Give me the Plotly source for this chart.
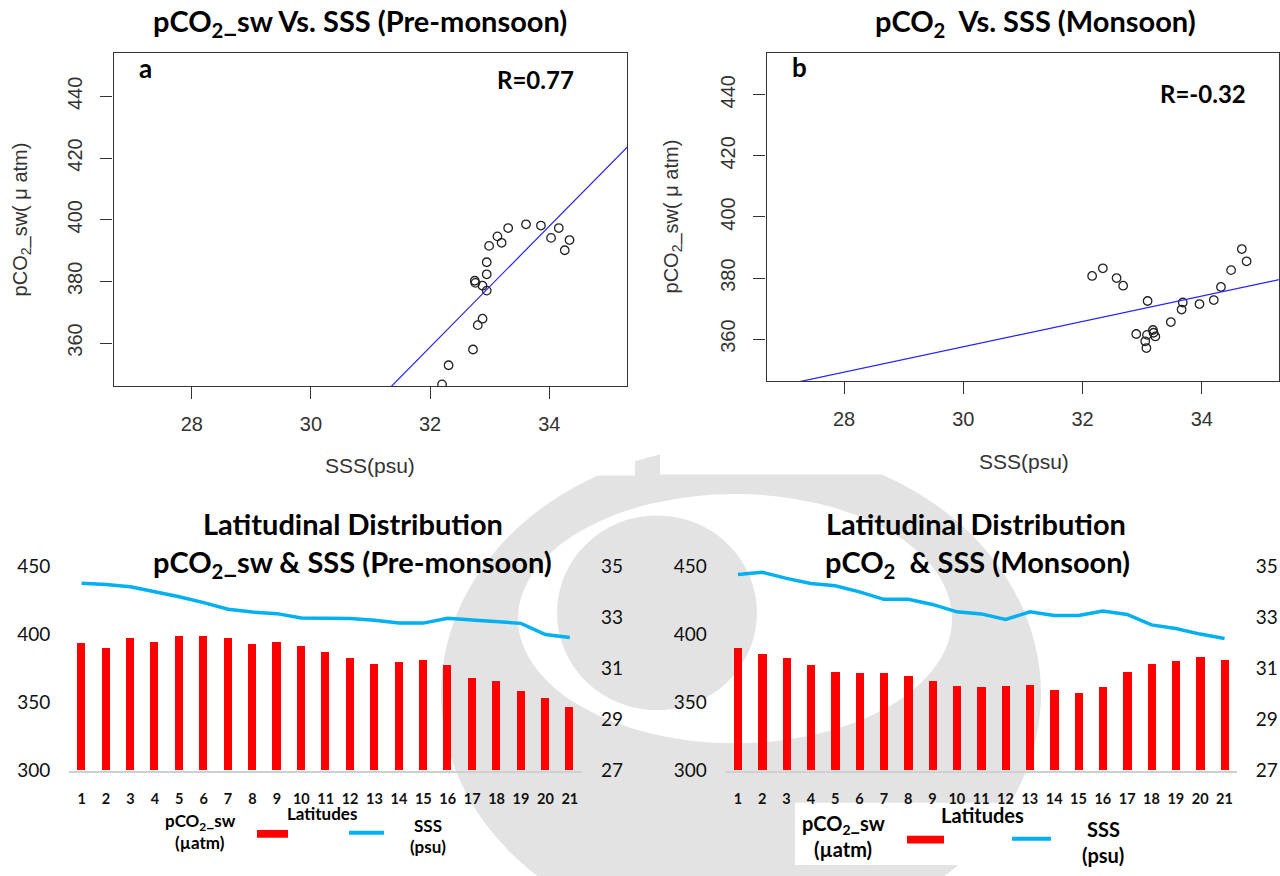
import plotly.graph_objects as go

W, H = 1280, 876

# ---- scatter data: SSS (psu) vs pCO2_sw (uatm) ----
sss_pre = [32.20, 32.31, 32.72, 32.80, 32.88, 32.75, 32.76, 32.88, 32.95, 32.95, 32.95,
           32.99, 33.13, 33.20, 33.31, 33.61, 33.86, 34.16, 34.03, 34.34, 34.26]
pco2_pre = [346.6, 352.8, 357.9, 365.8, 367.9, 380.2, 379.5, 378.6, 377.0, 382.3, 386.2,
            391.5, 394.6, 392.5, 397.3, 398.5, 398.1, 397.3, 394.1, 393.4, 390.1]

sss_mon = [32.16, 32.34, 32.57, 32.68, 33.09, 32.90, 33.08, 33.05, 33.07, 33.18, 33.19,
           33.22, 33.48, 33.66, 33.68, 33.96, 34.20, 34.32, 34.49, 34.67, 34.75]
pco2_mon = [380.7, 383.2, 380.0, 377.5, 372.5, 361.7, 361.4, 359.3, 357.1, 363.0, 362.1,
            360.9, 365.6, 369.7, 372.0, 371.5, 372.8, 377.1, 382.6, 389.5, 385.5]

# fitted lines (slope, intercept)
fit_pre = (19.6, -268.5)
fit_mon = (4.15, 233.0)
fit_span = [26.0, 36.0]

# ---- latitudinal distribution ----
latitudes = list(range(1, 22))
bar_pre = [393.3, 390.2, 397.4, 394.5, 398.6, 398.6, 397.4, 392.6, 394.5, 391.4, 386.7,
           382.6, 378.3, 379.5, 381.0, 377.1, 367.9, 366.0, 358.1, 352.9, 346.7]
line_pre = [34.34, 34.29, 34.20, 34.02, 33.81, 33.58, 33.32, 33.21, 33.15, 32.98, 32.96,
            32.96, 32.89, 32.78, 32.78, 32.97, 32.90, 32.85, 32.77, 32.33, 32.22]
bar_mon = [389.8, 385.5, 382.4, 377.1, 372.4, 371.7, 371.7, 369.3, 365.7, 362.1, 361.0,
           361.7, 362.9, 359.3, 356.9, 361.0, 372.4, 377.9, 380.2, 383.1, 381.0]
line_mon = [34.68, 34.77, 34.53, 34.33, 34.24, 34.00, 33.71, 33.71, 33.51, 33.22, 33.14,
            32.92, 33.22, 33.08, 33.08, 33.25, 33.12, 32.71, 32.57, 32.35, 32.18]

pco2_ticks = [300, 350, 400, 450]
sss_ticks = [27, 29, 31, 33, 35]
r_xticks = [28, 30, 32, 34]
r_yticks = [360, 380, 400, 420, 440]

BAR_RED = "#FF0000"
LINE_BLUE = "#00B0F0"
FIT_BLUE = "#2222FF"
R_TEXT = "#333333"
WM = "#e3e3e3"

R_FONT = "Liberation Sans, Arial, sans-serif"
C_FONT = "Lato, Open Sans, sans-serif"


def px(x):
    return x / W


def py(y):
    return 1 - y / H


fig = go.Figure()

# scatter panels
fig.add_trace(go.Scatter(x=sss_pre, y=pco2_pre, mode="markers", xaxis="x", yaxis="y",
                         marker=dict(symbol="circle-open", size=8.5, color="#222222",
                                     line=dict(width=1.3)), showlegend=False))
fig.add_trace(go.Scatter(x=fit_span, y=[fit_pre[0] * v + fit_pre[1] for v in fit_span],
                         mode="lines", xaxis="x", yaxis="y",
                         line=dict(color=FIT_BLUE, width=1.2), showlegend=False))
fig.add_trace(go.Scatter(x=sss_mon, y=pco2_mon, mode="markers", xaxis="x2", yaxis="y2",
                         marker=dict(symbol="circle-open", size=8.5, color="#222222",
                                     line=dict(width=1.3)), showlegend=False))
fig.add_trace(go.Scatter(x=fit_span, y=[fit_mon[0] * v + fit_mon[1] for v in fit_span],
                         mode="lines", xaxis="x2", yaxis="y2",
                         line=dict(color=FIT_BLUE, width=1.2), showlegend=False))

# bar + line panels
fig.add_trace(go.Bar(x=latitudes, y=[v - 300 for v in bar_pre], base=300, width=0.33,
                     marker=dict(color=BAR_RED, line=dict(width=0)),
                     xaxis="x3", yaxis="y3", showlegend=False))
fig.add_trace(go.Scatter(x=latitudes, y=line_pre, mode="lines", xaxis="x3", yaxis="y4",
                         line=dict(color=LINE_BLUE, width=3.5), showlegend=False))
fig.add_trace(go.Bar(x=latitudes, y=[v - 300 for v in bar_mon], base=300, width=0.33,
                     marker=dict(color=BAR_RED, line=dict(width=0)),
                     xaxis="x4", yaxis="y5", showlegend=False))
fig.add_trace(go.Scatter(x=latitudes, y=line_mon, mode="lines", xaxis="x4", yaxis="y6",
                         line=dict(color=LINE_BLUE, width=3.5), showlegend=False))

r_x_common = dict(tickvals=r_xticks, ticks="outside", ticklen=12, tickwidth=1.2,
                  tickcolor="#333333", showline=True, linecolor="#333333", linewidth=1.3,
                  mirror=True, showgrid=False, zeroline=False, ticklabelstandoff=8,
                  tickfont=dict(family=R_FONT, size=20, color=R_TEXT))
r_y_common = dict(tickvals=r_yticks, ticks="outside", ticklen=12, tickwidth=1.2,
                  tickcolor="#333333", showline=True, linecolor="#333333", linewidth=1.3,
                  mirror=True, showgrid=False, zeroline=False, tickangle=-90,
                  ticklabelstandoff=10,
                  tickfont=dict(family=R_FONT, size=20, color=R_TEXT))

bar_x_common = dict(range=[0.5, 21.5], tickvals=latitudes, ticks="", showline=True,
                    linecolor="#d0d0d0", linewidth=1.5, showgrid=False, zeroline=False,
                    ticklabelstandoff=14,
                    tickfont=dict(family=C_FONT, size=14.5, color="#111111", weight="bold"))
bar_yl_common = dict(range=[300, 450], tickvals=pco2_ticks, showline=False, showgrid=False,
                     zeroline=False, ticks="", ticklabelstandoff=18,
                     tickfont=dict(family=C_FONT, size=19, color="#111111"))
bar_yr_common = dict(range=[27, 35], tickvals=sss_ticks, showline=False, showgrid=False,
                     zeroline=False, ticks="", side="right", ticklabelstandoff=18,
                     tickfont=dict(family=C_FONT, size=19, color="#111111"))

fig.update_layout(
    width=W, height=H, margin=dict(l=0, r=0, t=0, b=0),
    paper_bgcolor="white", plot_bgcolor="rgba(0,0,0,0)",
    bargap=0,
    xaxis=dict(domain=[px(113.5), px(627.3)], range=[26.685, 35.31], anchor="y", **r_x_common),
    yaxis=dict(domain=[py(384.3), py(42.3)], range=[346.0, 454.0], anchor="x", **r_y_common),
    xaxis2=dict(domain=[px(766.5), px(1278.8)], range=[26.70, 35.29], anchor="y2", **r_x_common),
    yaxis2=dict(domain=[py(379.3), py(41.7)], range=[346.2, 453.8], anchor="x2", **r_y_common),
    xaxis3=dict(domain=[px(69.4), px(582.0)], anchor="y3", **bar_x_common),
    yaxis3=dict(domain=[py(779.3), py(569.3)], anchor="x3", **bar_yl_common),
    yaxis4=dict(domain=[py(779.3), py(569.3)], anchor="x3", overlaying="y3", **bar_yr_common),
    xaxis4=dict(domain=[px(725.7), px(1236.7)], anchor="y5", **bar_x_common),
    yaxis5=dict(domain=[py(779.3), py(569.3)], anchor="x4", **bar_yl_common),
    yaxis6=dict(domain=[py(779.3), py(569.3)], anchor="x4", overlaying="y5", **bar_yr_common),
)

# faint emblem behind the lower charts, white page areas above it
shapes = [
    dict(type="circle", xref="paper", yref="paper", layer="below",
         x0=px(441), x1=px(1041), y0=py(445), y1=py(955),
         fillcolor=WM, line=dict(width=0)),
    dict(type="circle", xref="paper", yref="paper", layer="below",
         x0=px(518), x1=px(952), y0=py(495), y1=py(751),
         fillcolor="white", line=dict(width=0)),
    dict(type="circle", xref="paper", yref="paper", layer="below",
         x0=px(557), x1=px(757), y0=py(517), y1=py(717),
         fillcolor=WM, line=dict(width=0)),
    dict(type="rect", xref="paper", yref="paper", layer="below",
         x0=0, x1=px(635), y0=py(476), y1=1, fillcolor="white", line=dict(width=0)),
    dict(type="rect", xref="paper", yref="paper", layer="below",
         x0=px(660), x1=1, y0=py(475), y1=1, fillcolor="white", line=dict(width=0)),
    dict(type="rect", xref="paper", yref="paper", layer="below",
         x0=px(155), x1=px(455), y0=py(876), y1=py(812), fillcolor="white", line=dict(width=0)),
    dict(type="rect", xref="paper", yref="paper", layer="below",
         x0=px(795), x1=px(1134), y0=py(876), y1=py(812), fillcolor="white", line=dict(width=0)),
    # legend swatches
    dict(type="rect", xref="paper", yref="paper",
         x0=px(257), x1=px(288), y0=py(848), y1=py(840), fillcolor=BAR_RED, line=dict(width=0)),
    dict(type="line", xref="paper", yref="paper",
         x0=px(349), x1=px(384), y0=py(843), y1=py(843), line=dict(color=LINE_BLUE, width=4)),
    dict(type="rect", xref="paper", yref="paper",
         x0=px(907), x1=px(944), y0=py(854), y1=py(846), fillcolor=BAR_RED, line=dict(width=0)),
    dict(type="line", xref="paper", yref="paper",
         x0=px(1012), x1=px(1051), y0=py(849), y1=py(849), line=dict(color=LINE_BLUE, width=4)),
]
fig.update_layout(shapes=shapes)


def label(text, x, y, size, family=C_FONT, bold=True, color="#000000", angle=0):
    fig.add_annotation(text=text, x=px(x), y=py(y), xref="paper", yref="paper",
                       xanchor="center", yanchor="middle", showarrow=False, textangle=angle,
                       font=dict(family=family, size=size, color=color,
                                 weight="bold" if bold else "normal"))


# titles
label("pCO<sub>2</sub>_sw Vs. SSS (Pre-monsoon)", 360, 11, 29)
label("pCO<sub>2</sub>  Vs. SSS (Monsoon)", 1035, 11, 29)
label("Latitudinal Distribution", 353, 525, 29)
label("pCO<sub>2</sub>_sw &amp; SSS (Pre-monsoon)", 352, 566, 29)
label("Latitudinal Distribution", 976, 525, 29)
label("pCO<sub>2</sub>  &amp; SSS (Monsoon)", 977, 566, 29)

# panel tags and correlation
label("a", 145, 58, 26)
label("R=0.77", 535, 69, 24)
label("b", 799, 56, 26)
label("R=-0.32", 1203, 84, 24)

# R axis titles
label("SSS(psu)", 370, 466, 21, family=R_FONT, bold=False, color=R_TEXT)
label("SSS(psu)", 1024, 462, 21, family=R_FONT, bold=False, color=R_TEXT)
label("pCO<sub>2</sub>_sw( μ atm)", 21, 213, 20, family=R_FONT, bold=False, color=R_TEXT, angle=-90)
label("pCO<sub>2</sub>_sw( μ atm)", 672, 210, 20, family=R_FONT, bold=False, color=R_TEXT, angle=-90)

# lower chart legends and axis titles
label("Latitudes", 322, 823, 17)
label("pCO<sub>2</sub>_sw", 200, 832, 17)
label("(µatm)", 200, 853, 17)
label("SSS", 428, 835, 17)
label("(psu)", 428, 857, 17)

label("Latitudes", 982, 825, 20)
label("pCO<sub>2</sub>_sw", 843, 834, 20)
label("(µatm)", 843, 860, 20)
label("SSS", 1103, 839, 20)
label("(psu)", 1103, 866, 20)

fig.write_html("out.html")
